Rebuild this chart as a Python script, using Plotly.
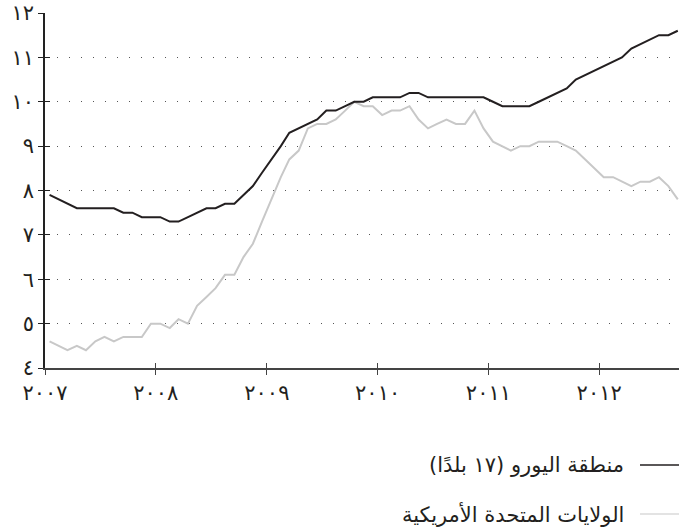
import pandas as pd
import plotly.graph_objects as go

# Monthly data, Jan 2007 - Sep 2012 (unemployment rate, %)
months = pd.date_range("2007-01-01", "2012-09-01", freq="MS") + pd.Timedelta(days=15)

euro_area = [
    7.9, 7.8, 7.7, 7.6, 7.6, 7.6, 7.6, 7.6, 7.5, 7.5, 7.4, 7.4,
    7.4, 7.3, 7.3, 7.4, 7.5, 7.6, 7.6, 7.7, 7.7, 7.9, 8.1, 8.4,
    8.7, 9.0, 9.3, 9.4, 9.5, 9.6, 9.8, 9.8, 9.9, 10.0, 10.0, 10.1,
    10.1, 10.1, 10.1, 10.2, 10.2, 10.1, 10.1, 10.1, 10.1, 10.1, 10.1, 10.1,
    10.0, 9.9, 9.9, 9.9, 9.9, 10.0, 10.1, 10.2, 10.3, 10.5, 10.6, 10.7,
    10.8, 10.9, 11.0, 11.2, 11.3, 11.4, 11.5, 11.5, 11.6,
]

usa = [
    4.6, 4.5, 4.4, 4.5, 4.4, 4.6, 4.7, 4.6, 4.7, 4.7, 4.7, 5.0,
    5.0, 4.9, 5.1, 5.0, 5.4, 5.6, 5.8, 6.1, 6.1, 6.5, 6.8, 7.3,
    7.8, 8.3, 8.7, 8.9, 9.4, 9.5, 9.5, 9.6, 9.8, 10.0, 9.9, 9.9,
    9.7, 9.8, 9.8, 9.9, 9.6, 9.4, 9.5, 9.6, 9.5, 9.5, 9.8, 9.4,
    9.1, 9.0, 8.9, 9.0, 9.0, 9.1, 9.1, 9.1, 9.0, 8.9, 8.7, 8.5,
    8.3, 8.3, 8.2, 8.1, 8.2, 8.2, 8.3, 8.1, 7.8,
]

series_names = ["منطقة اليورو (١٧ بلدًا)", "الولايات المتحدة الأمريكية"]

year_ticks = ["2007-01-01", "2008-01-01", "2009-01-01", "2010-01-01", "2011-01-01", "2012-01-01"]
year_labels = ["٢٠٠٧", "٢٠٠٨", "٢٠٠٩", "٢٠١٠", "٢٠١١", "٢٠١٢"]

y_ticks = [4, 5, 6, 7, 8, 9, 10, 11, 12]
y_labels = ["٤", "٥", "٦", "٧", "٨", "٩", "١٠", "١١", "١٢"]

DARK = "#231f20"
LIGHT = "#c8c8c8"
FONT = "DejaVu Sans"
x_range = ["2007-01-01", "2012-09-20"]

L, T, W, H = 45, 13, 634, 355

fig = go.Figure()
fig.add_trace(go.Scatter(x=months, y=usa, mode="lines", name=series_names[1],
                         line=dict(color=LIGHT, width=2), showlegend=False))
fig.add_trace(go.Scatter(x=months, y=euro_area, mode="lines", name=series_names[0],
                         line=dict(color=DARK, width=2), showlegend=False))

fig.update_layout(
    width=679, height=527,
    margin=dict(l=L, r=679 - L - W, t=T, b=527 - T - H, autoexpand=False),
    paper_bgcolor="white", plot_bgcolor="white",
    font=dict(family=FONT, color=DARK, size=19),
    xaxis=dict(
        type="date", range=x_range, tickvals=year_ticks, ticktext=year_labels,
        ticks="outside", ticklen=5, tickwidth=1.2, tickcolor="#444",
        showline=True, linecolor="#444", linewidth=1.5, automargin=False,
        showgrid=False, zeroline=False, tickfont=dict(size=21, color=DARK),
    ),
    xaxis2=dict(
        type="date", range=x_range, tickvals=year_ticks, overlaying="x", anchor="y",
        ticks="inside", ticklen=5, tickwidth=1.2, tickcolor="#444", automargin=False,
        showticklabels=False, showline=False, showgrid=False, zeroline=False,
    ),
    yaxis=dict(
        range=[4, 12], tickvals=y_ticks, ticktext=y_labels,
        ticks="outside", ticklen=5, tickwidth=1.2, tickcolor="#222",
        showline=True, linecolor="#222", linewidth=1.5, automargin=False,
        showgrid=True, gridcolor="#555", gridwidth=1, griddash="1.3px,10.7px",
        zeroline=False, tickfont=dict(size=21, color=DARK),
    ),
    yaxis2=dict(
        range=[4, 12], tickvals=y_ticks, overlaying="y", anchor="x", side="left",
        ticks="inside", ticklen=5, tickwidth=1.2, tickcolor="#222", automargin=False,
        showticklabels=False, showline=False, showgrid=False, zeroline=False,
    ),
)

# invisible trace so overlay axes render
fig.add_trace(go.Scatter(x=[months[0]], y=[usa[0]], xaxis="x2", yaxis="y2",
                         mode="markers", marker=dict(opacity=0), showlegend=False,
                         hoverinfo="skip"))

# Manual right-to-left legend (symbol on the right)
legend_rows = [(series_names[0], DARK, 1.5, 465), (series_names[1], LIGHT, 1.2, 514)]
for name, color, lw, ypix in legend_rows:
    yp = 1 - (ypix - T) / float(H)
    fig.add_shape(type="line", xref="paper", yref="paper",
                  x0=(640 - L) / float(W), x1=1.0, y0=yp, y1=yp,
                  line=dict(color=color, width=lw))
    fig.add_annotation(text=name, xref="paper", yref="paper",
                       x=(626 - L) / float(W), y=yp, xanchor="right", yanchor="middle",
                       showarrow=False, font=dict(size=21, color=DARK, family=FONT))

fig.write_html(
    "out.html",
    config={"displayModeBar": False},
    post_script="document.body.style.margin='0';document.body.style.overflow='hidden';",
)
